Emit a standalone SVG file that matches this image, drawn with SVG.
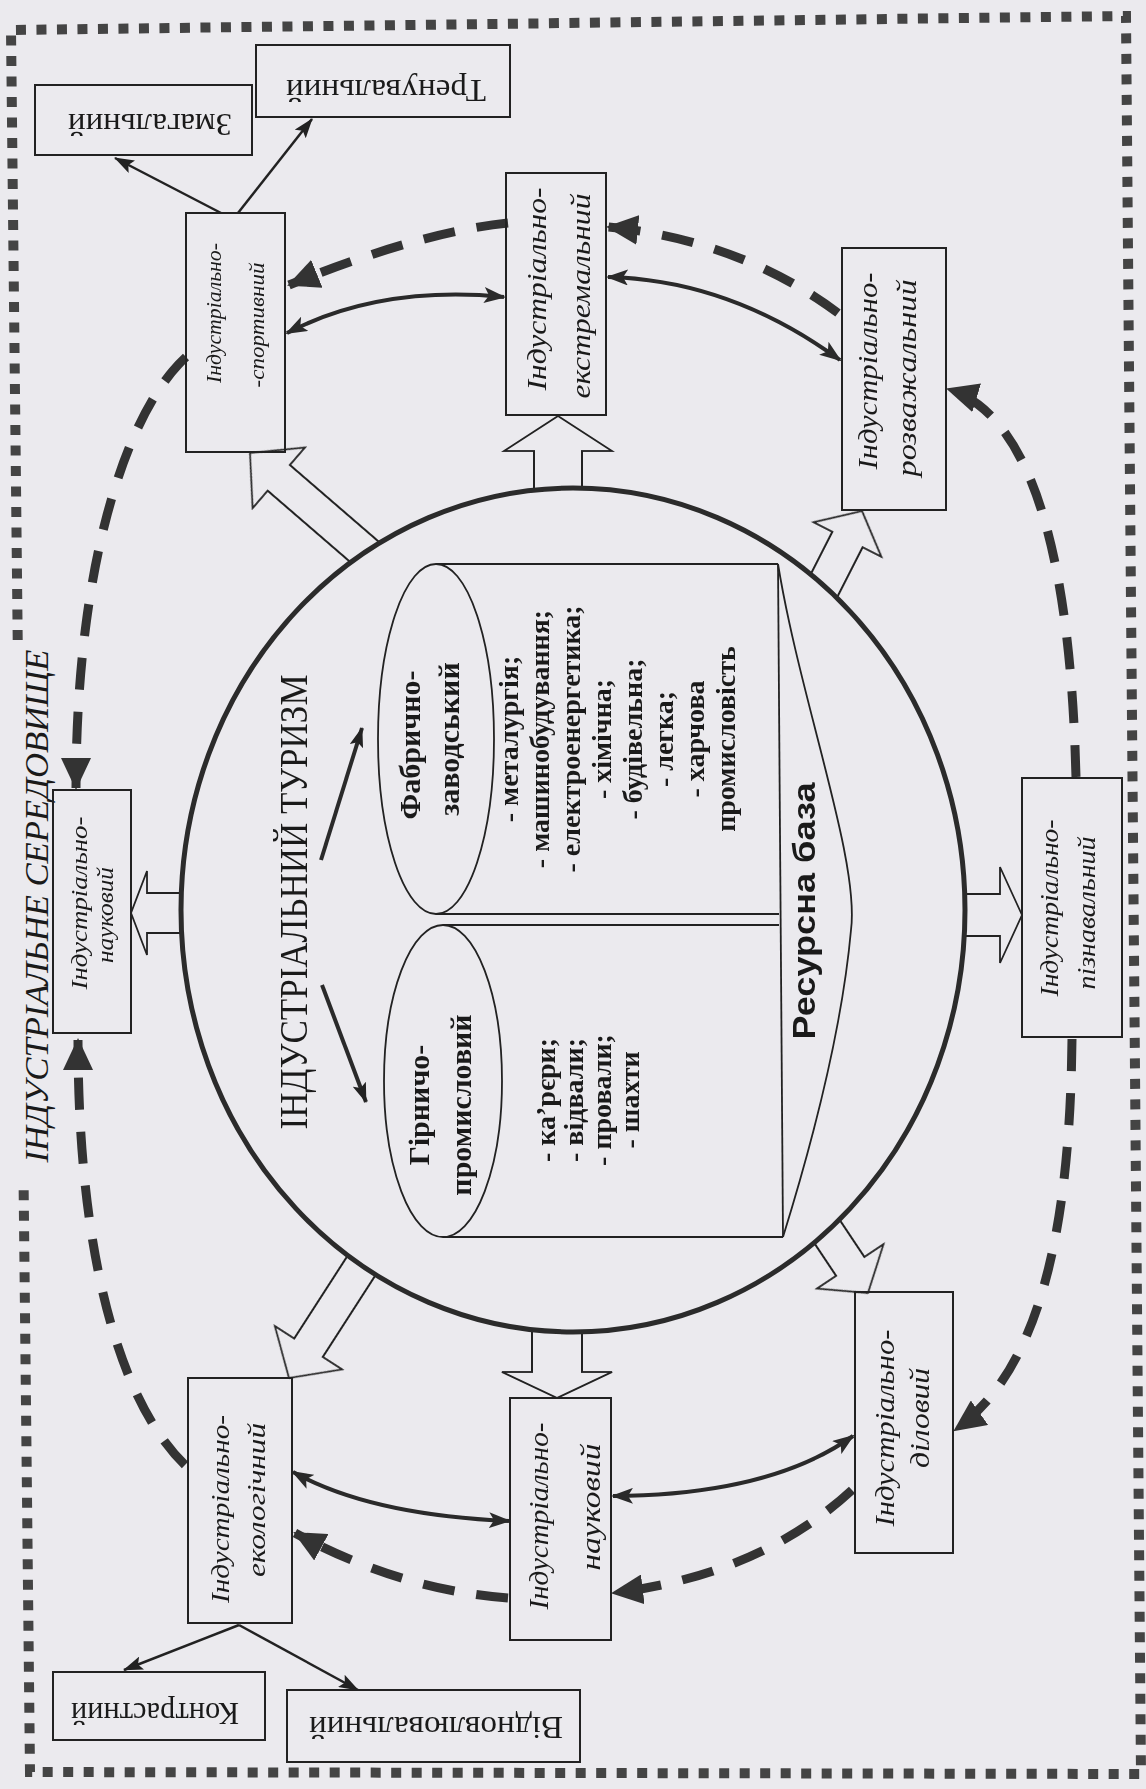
<svg xmlns="http://www.w3.org/2000/svg" width="1146" height="1789" viewBox="0 0 1146 1789">
<defs>
<style>
.bg{fill:#ebeaee}
.box{fill:none;stroke:#222;stroke-width:2}
.thinln{fill:none;stroke:#222;stroke-width:1.8}
.lbl{font-family:"Liberation Serif","Times New Roman",serif;font-style:italic;fill:#1a1a1a}
.rm{font-family:"Liberation Serif","Times New Roman",serif;fill:#1a1a1a}
.bd{font-family:"Liberation Serif","Times New Roman",serif;font-weight:bold;fill:#1a1a1a}
.sans{font-family:"Liberation Sans",Arial,sans-serif;font-weight:bold;fill:#1a1a1a}
.dash{fill:none;stroke:#333;stroke-width:9;stroke-dasharray:32 22}
.sol{fill:none;stroke:#2a2a2a;stroke-width:4}
.thin{fill:none;stroke:#222;stroke-width:2.5}
.blk{fill:#ebeaee;stroke:#222;stroke-width:1.8}
.border{fill:none;stroke:#444;stroke-width:10;stroke-dasharray:10 10.5}
.circ{fill:none;stroke:#2b2b2b;stroke-width:5}
</style>
<marker id="hb" viewBox="0 0 32 30" refX="30" refY="15" markerWidth="32" markerHeight="30" orient="auto" markerUnits="userSpaceOnUse"><path d="M0 0 L32 15 L0 30 z" fill="#333"/></marker>
<marker id="hm" viewBox="0 0 22 16" refX="20" refY="8" markerWidth="22" markerHeight="16" orient="auto-start-reverse" markerUnits="userSpaceOnUse"><path d="M0 0 L22 8 L0 16 L5 8 z" fill="#2a2a2a"/></marker>
<marker id="hs" viewBox="0 0 20 14" refX="19" refY="7" markerWidth="20" markerHeight="14" orient="auto" markerUnits="userSpaceOnUse"><path d="M0 0 L20 7 L0 14 L4 7 z" fill="#222"/></marker>
<mask id="outside" maskUnits="userSpaceOnUse" x="0" y="0" width="1146" height="1789">
<rect x="0" y="0" width="1146" height="1789" fill="#fff"/>
<ellipse cx="573" cy="910" rx="392" ry="422" fill="#000"/>
</mask>
</defs>

<rect class="bg" x="0" y="0" width="1146" height="1789"/>

<g id="frame">
<path class="border" d="M17.7 640 L11 30 L1126 16 L1141 1774 L30 1772 L23.6 1185"/>
<text class="lbl" font-size="34" text-anchor="middle" textLength="513" lengthAdjust="spacingAndGlyphs" transform="translate(48,906) rotate(-90)">ІНДУСТРІАЛЬНЕ СЕРЕДОВИЩЕ</text>
</g>

<g id="connectors">
<g id="block-arrows" mask="url(#outside)">
<polygon class="blk" transform="translate(250,453) rotate(-139.2)" points="0,0 -38,-40 -38,-17 -175,-17 -175,17 -38,17 -38,40"/>
<polygon class="blk" transform="translate(558,416) rotate(-90)" points="0,0 -35,-54 -35,-24 -95,-24 -95,24 -35,24 -35,54"/>
<polygon class="blk" transform="translate(862,511) rotate(-63)" points="0,0 -32,-38 -32,-17 -110,-17 -110,17 -32,17 -32,38"/>
<polygon class="blk" transform="translate(1022,915)" points="0,0 -22,-48 -22,-21 -75,-21 -75,21 -22,21 -22,48"/>
<polygon class="blk" transform="translate(868,1293) rotate(56.3)" points="0,0 -32,-40 -32,-17 -105,-17 -105,17 -32,17 -32,40"/>
<polygon class="blk" transform="translate(557,1398) rotate(90)" points="0,0 -26,-55 -26,-25 -85,-25 -85,25 -26,25 -26,55"/>
<polygon class="blk" transform="translate(289,1378) rotate(122.8)" points="0,0 -36,-40 -36,-17 -150,-17 -150,17 -36,17 -36,40"/>
<polygon class="blk" transform="translate(131,913) rotate(180)" points="0,0 -16,-42 -16,-20 -70,-20 -70,20 -16,20 -16,42"/>
</g>
<path class="dash" marker-end="url(#hb)" d="M508 223 Q420 232 289 285"/>
<path class="dash" marker-end="url(#hb)" d="M838 313 Q740 240 608 227"/>
<path class="dash" marker-end="url(#hb)" d="M1076 777 C1072 620 1050 420 948 389"/>
<path class="dash" marker-end="url(#hb)" d="M1072 1039 C1070 1230 1040 1370 955 1430"/>
<path class="dash" marker-end="url(#hb)" d="M852 1490 Q760 1575 613 1593"/>
<path class="dash" marker-end="url(#hb)" d="M508 1598 Q400 1590 295 1533"/>
<path class="dash" marker-end="url(#hb)" d="M185 1465 C118 1400 78 1250 78 1040"/>
<path class="dash" marker-end="url(#hb)" d="M186 357 C128 410 76 560 76 788"/>
<path class="sol" marker-start="url(#hm)" marker-end="url(#hm)" d="M287 333 Q380 285 504 297"/>
<path class="sol" marker-start="url(#hm)" marker-end="url(#hm)" d="M608 277 Q730 280 840 360"/>
<path class="sol" marker-start="url(#hm)" marker-end="url(#hm)" d="M853 1436 Q770 1495 613 1496"/>
<path class="sol" marker-start="url(#hm)" marker-end="url(#hm)" d="M293 1472 Q370 1515 509 1521"/>
<path class="thin" marker-end="url(#hs)" d="M221 213 L115 158"/>
<path class="thin" marker-end="url(#hs)" d="M238 213 L312 119"/>
<path class="thin" marker-end="url(#hs)" d="M239 1625 L124 1670"/>
<path class="thin" marker-end="url(#hs)" d="M239 1625 L358 1690"/>
<path class="sol" marker-end="url(#hs)" d="M321 860 L362 728"/>
<path class="sol" marker-end="url(#hs)" d="M322 985 L366 1102"/>
</g>

<g id="node-industrial-tourism">
<ellipse class="circ" cx="573" cy="910" rx="392" ry="422"/>
<text class="rm" font-size="40" text-anchor="middle" textLength="455" lengthAdjust="spacingAndGlyphs" transform="translate(307,902) rotate(-90)">ІНДУСТРІАЛЬНИЙ ТУРИЗМ</text>
</g>

<g id="node-resource-base">
<line class="thinln" x1="436" y1="564" x2="778" y2="564"/>
<line class="thinln" x1="436" y1="914" x2="779" y2="914"/>
<line class="thinln" x1="443" y1="925" x2="779" y2="925"/>
<line class="thinln" x1="443" y1="1237" x2="783" y2="1237"/>
<line class="thinln" x1="778" y1="564" x2="783" y2="1237"/>
<path class="thinln" d="M778 564 C800 700 860 860 851 930 C842 1030 810 1150 783 1237"/>
<text class="sans" font-size="32" text-anchor="middle" textLength="257" lengthAdjust="spacingAndGlyphs" transform="translate(815,911) rotate(-90)">Ресурсна база</text>
</g>

<g id="node-factory">
<ellipse class="thinln" cx="436" cy="739" rx="58" ry="175"/>
<text class="bd" font-size="30" text-anchor="middle" transform="translate(420,745) rotate(-90)">Фабрично-</text>
<text class="bd" font-size="30" text-anchor="middle" transform="translate(459,739) rotate(-90)">заводський</text>
<g class="bd" font-size="28" text-anchor="middle">
<text transform="translate(518,739) rotate(-90)">- металургія;</text>
<text transform="translate(549,739) rotate(-90)">- машинобудування;</text>
<text transform="translate(580,739) rotate(-90)">- електроенергетика;</text>
<text transform="translate(611,739) rotate(-90)">- хімічна;</text>
<text transform="translate(642,739) rotate(-90)">- будівельна;</text>
<text transform="translate(673,739) rotate(-90)">- легка;</text>
<text transform="translate(704,739) rotate(-90)">- харчова</text>
<text transform="translate(735,739) rotate(-90)">промисловість</text>
</g>
</g>

<g id="node-mining">
<ellipse class="thinln" cx="443" cy="1081" rx="59" ry="156"/>
<text class="bd" font-size="30" text-anchor="middle" transform="translate(429,1105) rotate(-90)">Гірничо-</text>
<text class="bd" font-size="30" text-anchor="middle" transform="translate(471,1105) rotate(-90)">промисловий</text>
<g class="bd" font-size="28" text-anchor="middle">
<text transform="translate(555,1100) rotate(-90)">- ка’рєри;</text>
<text transform="translate(583,1100) rotate(-90)">- відвали;</text>
<text transform="translate(611,1100) rotate(-90)">- провали;</text>
<text transform="translate(639,1100) rotate(-90)">- шахти</text>
</g>
</g>

<g id="node-sport">
<rect class="box" x="186" y="213" width="99" height="239"/>
<text class="lbl" font-size="22" text-anchor="middle" textLength="140" lengthAdjust="spacingAndGlyphs" transform="translate(221,313) rotate(-90)">Індустріально-</text>
<text class="lbl" font-size="22" text-anchor="middle" textLength="125" lengthAdjust="spacingAndGlyphs" transform="translate(264,325) rotate(-90)">-спортивний</text>
</g>

<g id="node-extreme">
<rect class="box" x="506" y="173" width="100" height="242"/>
<text class="lbl" font-size="28" text-anchor="middle" textLength="203" lengthAdjust="spacingAndGlyphs" transform="translate(546,289) rotate(-90)">Індустріально-</text>
<text class="lbl" font-size="28" text-anchor="middle" textLength="205" lengthAdjust="spacingAndGlyphs" transform="translate(590,296) rotate(-90)">екстремальний</text>
</g>

<g id="node-entertainment">
<rect class="box" x="842" y="248" width="104" height="262"/>
<text class="lbl" font-size="28" text-anchor="middle" textLength="197" lengthAdjust="spacingAndGlyphs" transform="translate(877,371) rotate(-90)">Індустріально-</text>
<text class="lbl" font-size="28" text-anchor="middle" textLength="197" lengthAdjust="spacingAndGlyphs" transform="translate(916,378) rotate(-90)">розважальний</text>
</g>

<g id="node-cognitive">
<rect class="box" x="1022" y="778" width="100" height="259"/>
<text class="lbl" font-size="26" text-anchor="middle" textLength="177" lengthAdjust="spacingAndGlyphs" transform="translate(1058,908) rotate(-90)">Індустріально-</text>
<text class="lbl" font-size="26" text-anchor="middle" textLength="153" lengthAdjust="spacingAndGlyphs" transform="translate(1095,913) rotate(-90)">пізнавальний</text>
</g>

<g id="node-business">
<rect class="box" x="855" y="1292" width="98" height="261"/>
<text class="lbl" font-size="28" text-anchor="middle" textLength="197" lengthAdjust="spacingAndGlyphs" transform="translate(894,1428) rotate(-90)">Індустріально-</text>
<text class="lbl" font-size="28" text-anchor="middle" textLength="100" lengthAdjust="spacingAndGlyphs" transform="translate(929,1418) rotate(-90)">діловий</text>
</g>

<g id="node-science-bottom">
<rect class="box" x="510" y="1398" width="101" height="242"/>
<text class="lbl" font-size="28" text-anchor="middle" textLength="187" lengthAdjust="spacingAndGlyphs" transform="translate(548,1516) rotate(-90)">Індустріально-</text>
<text class="lbl" font-size="28" text-anchor="middle" textLength="127" lengthAdjust="spacingAndGlyphs" transform="translate(600,1507) rotate(-90)">науковий</text>
</g>

<g id="node-ecology">
<rect class="box" x="188" y="1378" width="104" height="245"/>
<text class="lbl" font-size="26" text-anchor="middle" textLength="188" lengthAdjust="spacingAndGlyphs" transform="translate(229,1509) rotate(-90)">Індустріально-</text>
<text class="lbl" font-size="26" text-anchor="middle" textLength="154" lengthAdjust="spacingAndGlyphs" transform="translate(265,1500) rotate(-90)">екологічний</text>
</g>

<g id="node-science-left">
<rect class="box" x="53" y="790" width="78" height="243"/>
<text class="lbl" font-size="23" text-anchor="middle" textLength="173" lengthAdjust="spacingAndGlyphs" transform="translate(87,903) rotate(-90)">Індустріально-</text>
<text class="lbl" font-size="23" text-anchor="middle" textLength="96" lengthAdjust="spacingAndGlyphs" transform="translate(113,915) rotate(-90)">науковий</text>
</g>

<g id="node-competitive">
<rect class="box" x="35" y="85" width="217" height="70"/>
<text class="rm" font-size="32" text-anchor="middle" textLength="164" lengthAdjust="spacingAndGlyphs" transform="translate(150,121) rotate(180)" y="7">Змагальний</text>
</g>

<g id="node-training">
<rect class="box" x="256" y="45" width="254" height="72"/>
<text class="rm" font-size="32" text-anchor="middle" textLength="200" lengthAdjust="spacingAndGlyphs" transform="translate(386,87) rotate(180)" y="7">Тренувальний</text>
</g>

<g id="node-contrast">
<rect class="box" x="53" y="1672" width="212" height="68"/>
<text class="rm" font-size="32" text-anchor="middle" textLength="168" lengthAdjust="spacingAndGlyphs" transform="translate(155,1710) rotate(180)" y="7">Контрастний</text>
</g>

<g id="node-restorative">
<rect class="box" x="287" y="1690" width="293" height="72"/>
<text class="rm" font-size="32" text-anchor="middle" textLength="254" lengthAdjust="spacingAndGlyphs" transform="translate(436,1724) rotate(180)" y="7">Відновлювальний</text>
</g>
</svg>
